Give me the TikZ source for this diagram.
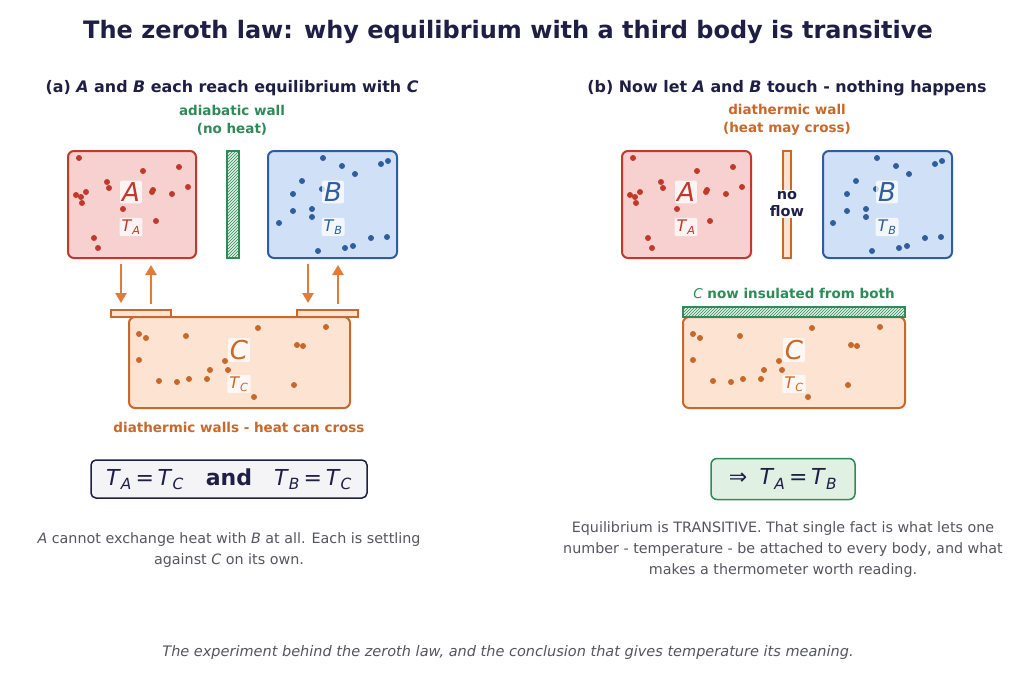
\documentclass[tikz,border=0pt]{standalone}
\usepackage{fontspec}
\setmainfont{DejaVu Sans}
\usetikzlibrary{patterns,arrows.meta}
\definecolor{navy}{HTML}{1F1F45}
\definecolor{rs}{HTML}{C0392B}\definecolor{rf}{HTML}{F7D0D0}
\definecolor{bs}{HTML}{2E5E9E}\definecolor{bf}{HTML}{D0E0F6}
\definecolor{os}{HTML}{C8682A}\definecolor{of}{HTML}{FDE3D2}
\definecolor{gs}{HTML}{2E8B57}\definecolor{gf}{HTML}{E0F0E3}
\definecolor{gt}{HTML}{555560}
\definecolor{ar}{HTML}{E07B39}
\newcommand\vv[2]{\textit{#1}\textsubscript{\textit{#2}}}
\tikzset{
 box/.style={rounded corners=6pt,line width=2pt},
 lbl/.style={fill=white,fill opacity=0.75,text opacity=1,inner sep=2pt,rounded corners=2pt},
 big/.style={lbl,font=\fontsize{26}{28}\selectfont\itshape},
 sm/.style={lbl,font=\fontsize{16}{17}\selectfont},
 hd/.style={font=\fontsize{15.9}{18}\selectfont\bfseries,text=navy},
 arr/.style={-{Triangle[length=10pt,width=11pt]},line width=2.6pt,ar},
 body/.style={font=\fontsize{14.3}{21}\selectfont,text=gt,align=center},
}
\begin{document}
\begin{tikzpicture}[x=1pt,y=-1pt]
\useasboundingbox[fill=white] (0,0) rectangle (1024,681);
\node[font=\fontsize{24}{28}\selectfont\bfseries,text=navy] (title) at (508,32) {The zeroth law: why equilibrium with a third body is transitive};
% ---------- (a)
\node[hd] (ha) at (232,88) {(a) \textit{A} and \textit{B} each reach equilibrium with \textit{C}};
\node[font=\fontsize{13.5}{18}\selectfont\bfseries,text=gs,align=center] (aw) at (232,120) {adiabatic wall\\(no heat)};
\newcommand\Adots[1]{\foreach \x/\y in {79/158,179/167,143/171,107/182,109/188,76/195,81/197,86/192,82/203,153/190,152/192,172/194,188/187,123/209,156/221,94/238,98/248}{\fill[rs] (\x+#1,\y) circle (3pt);}}
\newcommand\Bdots[1]{\foreach \x/\y in {323/158,342/166,381/164,388/161,355/174,302/181,293/194,322/189,293/211,312/209,312/217,279/223,371/238,387/237,318/251,345/248,353/246}{\fill[bs] (\x+#1,\y) circle (3pt);}}
\newcommand\Cdots[1]{\foreach \x/\y in {139/334,146/338,186/336,258/328,326/327,297/345,303/346,139/360,225/361,228/370,210/370,207/379,189/379,177/382,159/381,254/397,294/385}{\fill[os] (\x+#1,\y) circle (3pt);}}
\draw[box,rs,fill=rf] (68,151) rectangle (196,258);
\Adots{0}
\node[big,text=rs] (A1) at (131,192) {A};
\node[sm,text=rs] (TA1) at (131,227) {\vv{T}{A}};
\draw[line width=1.5pt,gs,fill=gf] (227,151) rectangle (239,258);
\fill[pattern=north east lines,pattern color=gs] (227,151) rectangle (239,258);
\draw[box,bs,fill=bf] (268,151) rectangle (397,258);
\Bdots{0}
\node[big,text=bs] (B1) at (333,192) {B};
\node[sm,text=bs] (TB1) at (333,227) {\vv{T}{B}};
\draw[box,os,fill=of] (129,317) rectangle (350,408);
\Cdots{0}
\node[big,text=os] (C1) at (239,350) {C};
\node[sm,text=os] (TC1) at (239,384) {\vv{T}{C}};
\draw[line width=1.3pt,os,fill=of] (111,310) rectangle (171,317);
\draw[line width=1.3pt,os,fill=of] (297,310) rectangle (358,317);
\coordinate (a1) at (121,264); \coordinate (a2) at (121,303);
\coordinate (a3) at (151,304); \coordinate (a4) at (151,265);
\coordinate (b1) at (308,264); \coordinate (b2) at (308,303);
\coordinate (b3) at (338,304); \coordinate (b4) at (338,265);
\draw[arr] (a1) -- (a2); \draw[arr] (a3) -- (a4);
\draw[arr] (b1) -- (b2); \draw[arr] (b3) -- (b4);
\node[font=\fontsize{13.5}{16}\selectfont\bfseries,text=os] (dw) at (239,427) {diathermic walls - heat can cross};
\node[draw=navy,line width=1.5pt,fill=navy!5,rounded corners=5pt,minimum width=276pt,minimum height=38pt,font=\fontsize{22}{24}\selectfont,text=navy] (eq1) at (229,479) {\vv{T}{A}\,=\,\vv{T}{C}\quad \textbf{and}\quad \vv{T}{B}\,=\,\vv{T}{C}};
\node[body] (t1) at (229,550) {\textit{A} cannot exchange heat with \textit{B} at all. Each is settling\\against \textit{C} on its own.};
% ---------- (b)
\node[hd] (hb) at (787,88) {(b) Now let \textit{A} and \textit{B} touch - nothing happens};
\node[font=\fontsize{13.5}{18}\selectfont\bfseries,text=os,align=center] (dw2) at (787,120) {diathermic wall\\(heat may cross)};
\draw[box,rs,fill=rf] (622,151) rectangle (751,258);
\Adots{554}
\node[big,text=rs] (A2) at (686,192) {A};
\node[sm,text=rs] (TA2) at (686,227) {\vv{T}{A}};
\draw[line width=1.5pt,os,fill=of] (783,151) rectangle (791,258);
\node[font=\fontsize{14.5}{17}\selectfont\bfseries,text=navy,fill=white,inner sep=1pt,align=center] (nf) at (787,204) {no\\flow};
\draw[box,bs,fill=bf] (823,151) rectangle (952,258);
\Bdots{554}
\node[big,text=bs] (B2) at (887,192) {B};
\node[sm,text=bs] (TB2) at (887,227) {\vv{T}{B}};
\node[font=\fontsize{13.5}{16}\selectfont\bfseries,text=gs] (ins) at (794,293) {\textit{\mdseries C} now insulated from both};
\draw[box,os,fill=of] (683,317) rectangle (905,408);
\Cdots{554}
\node[big,text=os] (C2) at (794,350) {C};
\node[sm,text=os] (TC2) at (794,384) {\vv{T}{C}};
\draw[line width=1.5pt,gs,fill=gf] (683,307) rectangle (905,317);
\fill[pattern=north east lines,pattern color=gs] (683,307) rectangle (905,317);
\node[draw=gs,line width=1.5pt,fill=gf,rounded corners=6pt,minimum width=144pt,minimum height=41pt,font=\fontsize{22}{24}\selectfont,text=navy] (eq2) at (783,479) {⇒\;\;\vv{T}{A}\,=\,\vv{T}{B}};
\node[body] (t2) at (783,550) {Equilibrium is TRANSITIVE. That single fact is what lets one\\number - temperature - be attached to every body, and what\\makes a thermometer worth reading.};
\node[font=\fontsize{14.5}{16}\selectfont\itshape,text=gt] (cap) at (508,652) {The experiment behind the zeroth law, and the conclusion that gives temperature its meaning.};
\end{tikzpicture}
\end{document}
